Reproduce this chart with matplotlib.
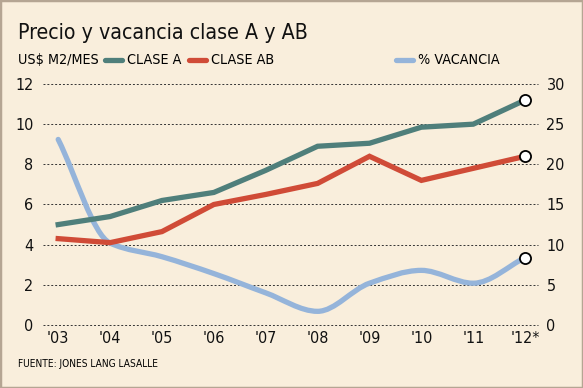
import matplotlib.pyplot as plt
import numpy as np
from matplotlib.path import Path
from matplotlib.patches import PathPatch, Rectangle
from matplotlib.lines import Line2D
from matplotlib.font_manager import FontProperties

# data
years = ["'03", "'04", "'05", "'06", "'07", "'08", "'09", "'10", "'11", "'12*"]
clase_a = [5.0, 5.4, 6.2, 6.6, 7.7, 8.9, 9.05, 9.85, 10.0, 11.2]
clase_ab = [4.3, 4.1, 4.65, 6.0, 6.5, 7.05, 8.4, 7.2, 7.8, 8.4]
vacancia = [23.1, 10.2, 8.5, 6.4, 4.0, 1.7, 5.2, 6.8, 5.2, 8.4]

bg = '#F9EEDC'
c_a = '#4F7F7B'
c_ab = '#D04B37'
c_vac = '#95B4DA'


def fp(size):
    return FontProperties(family='DejaVu Sans', stretch='condensed', size=size)


fig = plt.figure(figsize=(5.83, 3.88), dpi=100, facecolor=bg)
fig.patches.append(Rectangle((0, 0), 1, 1, transform=fig.transFigure, fill=False,
                             edgecolor='#B5A593', linewidth=2.5))

ax = fig.add_axes([0.074, 0.1624, 0.849, 0.6211])
ax.set_facecolor('none')
ax2 = ax.twinx()
x = np.arange(len(years))

ax.set_xlim(-0.29, 9.25)
ax.set_ylim(0, 12)
ax2.set_ylim(0, 30)
ax.set_yticks(range(0, 13, 2))
ax2.set_yticks(range(0, 31, 5))
for y in range(0, 13, 2):
    ax2.axhline(y * 2.5, color='#333333', linestyle=(0, (2, 2)), linewidth=0.7,
                zorder=0, clip_on=False)

# smooth vacancy curve: monotone cubic bezier segments through the data points
v = np.array(vacancia, dtype=float)
d = np.diff(v)
m = np.zeros(len(v))
m[0], m[-1] = d[0], d[-1]
for i in range(1, len(v) - 1):
    if d[i - 1] * d[i] > 0:
        m[i] = 2 * d[i - 1] * d[i] / (d[i - 1] + d[i])
verts = [(x[0], v[0])]
codes = [Path.MOVETO]
for i in range(len(v) - 1):
    verts += [(x[i] + 1 / 3, v[i] + m[i] / 3), (x[i + 1] - 1 / 3, v[i + 1] - m[i + 1] / 3),
              (x[i + 1], v[i + 1])]
    codes += [Path.CURVE4] * 3
ax2.add_patch(PathPatch(Path(verts, codes), facecolor='none', edgecolor=c_vac,
                        linewidth=3.8, capstyle='round', joinstyle='round', zorder=2))

ax.plot(x, clase_a, color=c_a, linewidth=3.8, solid_joinstyle='miter', zorder=3)
ax.plot(x, clase_ab, color=c_ab, linewidth=3.8, solid_joinstyle='miter', zorder=3)
ax.set_zorder(ax2.get_zorder() + 1)
ax.plot(x[-1], clase_a[-1], 'o', ms=8, mfc='white', mec='black', mew=1.3, zorder=4)
ax.plot(x[-1], clase_ab[-1], 'o', ms=8, mfc='white', mec='black', mew=1.3, zorder=4)
ax2.plot(x[-1], vacancia[-1], 'o', ms=8, mfc='white', mec='black', mew=1.3, zorder=4)

ax.set_xticks(x)
ax.set_xticklabels(years)
for a in (ax, ax2):
    for s in a.spines.values():
        s.set_visible(False)
    a.tick_params(length=0, colors='#111111')
    for lab in a.get_xticklabels() + a.get_yticklabels():
        lab.set_fontproperties(fp(11.5))
ax.tick_params(axis='y', pad=7)
ax2.tick_params(axis='y', pad=6)
ax.tick_params(axis='x', pad=4)

fig.text(0.031, 0.915, 'Precio y vacancia clase A y AB', fontproperties=fp(15.3),
         color='#111111', va='center')
fig.text(0.031, 0.845, 'US$ M2/MES', fontproperties=fp(10.3), va='center')
legend = [(0.180, c_a, 'CLASE A'), (0.324, c_ab, 'CLASE AB'), (0.679, c_vac, '% VACANCIA')]
for lx, col, txt in legend:
    fig.lines.append(Line2D([lx, lx + 0.029], [0.846, 0.846], color=col, linewidth=3.8,
                            solid_capstyle='round', transform=fig.transFigure))
    fig.text(lx + 0.038, 0.845, txt, fontproperties=fp(10.3), va='center')
fig.text(0.031, 0.063, 'FUENTE: JONES LANG LASALLE', fontproperties=fp(7.3), va='center')

fig.savefig('out.png', dpi=100, facecolor=bg)
